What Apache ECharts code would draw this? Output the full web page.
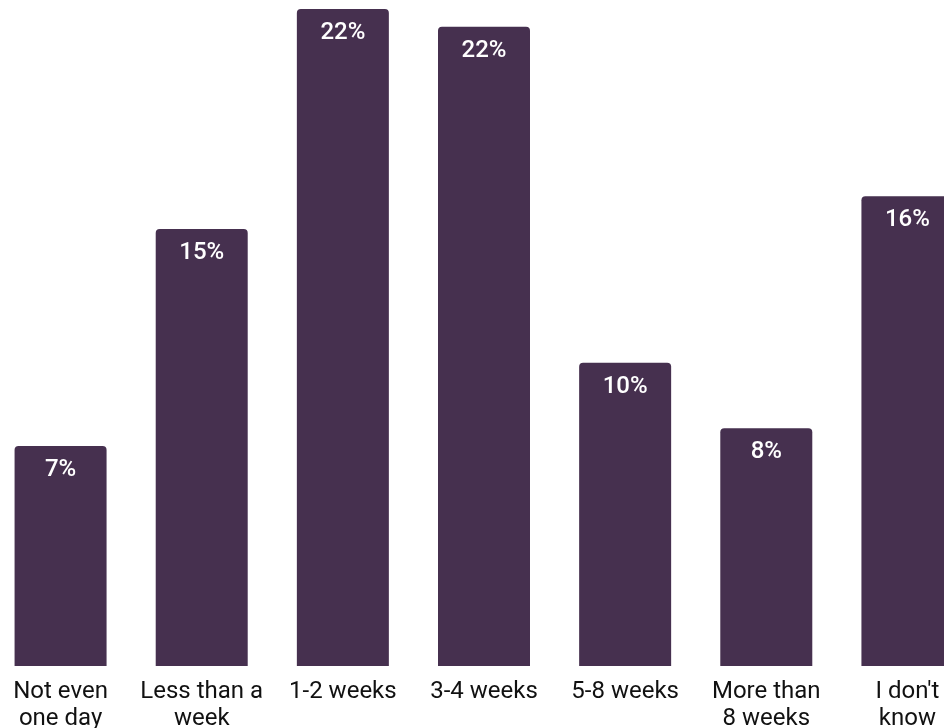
<!DOCTYPE html>
<html>
<head>
<meta charset="utf-8">
<script src="https://cdn.jsdelivr.net/npm/echarts@6/dist/echarts.min.js"></script>
<style>
html,body{margin:0;padding:0;background:#fff;}
#chart{width:944px;height:728px;}
</style>
</head>
<body>
<div id="chart"></div>
<script>
const categories = ["Not even\none day", "Less than a\nweek", "1-2 weeks", "3-4 weeks", "5-8 weeks", "More than\n8 weeks", "I don't\nknow"];
const values = [7.4, 14.7, 22.1, 21.5, 10.2, 8.0, 15.8];

const chart = echarts.init(document.getElementById('chart'));
chart.setOption({
  animation: false,
  grid: { left: -10, right: -34, top: 0, bottom: 62, containLabel: false, outerBoundsMode: 'none' },
  xAxis: {
    type: 'category',
    data: categories,
    axisLine: { show: false },
    axisTick: { show: false },
    axisLabel: {
      interval: 0,
      margin: 12,
      color: '#111',
      fontFamily: 'Roboto',
      fontSize: 24,
      lineHeight: 27
    }
  },
  yAxis: {
    type: 'value',
    min: 0,
    max: 22.4,
    show: false,
    splitLine: { show: false }
  },
  series: [{
    type: 'bar',
    data: values,
    barWidth: 92,
    itemStyle: { color: '#46304f', borderRadius: [4, 4, 0, 0] },
    label: {
      show: true,
      position: 'insideTop',
      distance: 12,
      color: '#fff',
      fontFamily: 'Roboto',
      fontWeight: 500,
      fontSize: 24,
      formatter: p => Math.round(p.value) + '%'
    }
  }]
});
</script>
</body>
</html>
